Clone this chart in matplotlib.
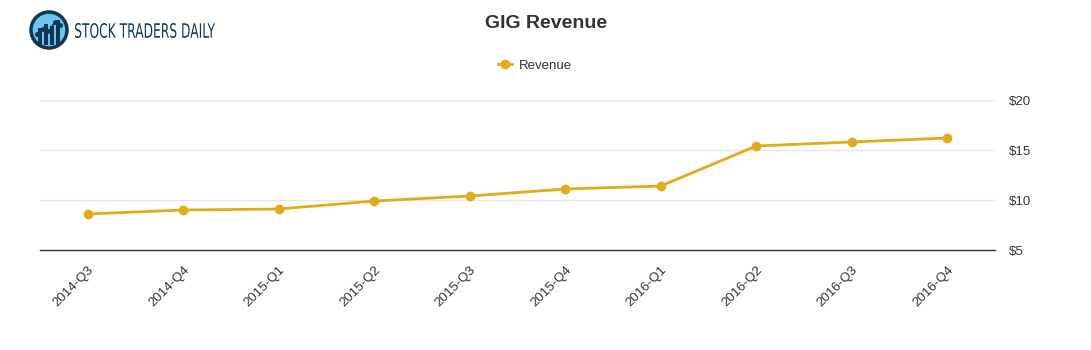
"""GIG revenue line chart in the Stock Traders Daily style"""

import matplotlib
matplotlib.use("Agg")
import matplotlib.pyplot as plt
from matplotlib.patches import Circle, PathPatch
from matplotlib.textpath import TextPath
from matplotlib.font_manager import FontProperties
from matplotlib.transforms import Affine2D

quarters = ["2014-Q3", "2014-Q4", "2015-Q1", "2015-Q2", "2015-Q3",
            "2015-Q4", "2016-Q1", "2016-Q2", "2016-Q3", "2016-Q4"]
revenue = [8.6, 9.0, 9.1, 9.9, 10.4, 11.1, 11.4, 15.4, 15.8, 16.2]
yticks = [5, 10, 15, 20]
ytick_labels = ["$5", "$10", "$15", "$20"]

line_color = "#E0AC17"
text_color = "#333333"

plt.rcParams["font.family"] = ["Liberation Sans", "DejaVu Sans"]

fig = plt.figure(figsize=(10.91, 3.5), dpi=100)
ax = fig.add_axes([40 / 1091, 1 - 250 / 350, 955 / 1091, 150 / 350])

x = list(range(len(quarters)))
ax.plot(x, revenue, color=line_color, linewidth=2, marker="o",
        markersize=6, label="Revenue", zorder=3)

ax.set_xlim(-0.5, len(quarters) - 0.5)
ax.set_ylim(5, 20)
ax.set_xticks(x)
ax.set_xticklabels(quarters, rotation=45, ha="right", rotation_mode="anchor",
                   fontsize=9.5, color=text_color)
ax.yaxis.tick_right()
ax.set_yticks(yticks)
ax.set_yticklabels(ytick_labels, fontsize=9.5, color=text_color)
ax.tick_params(axis="both", length=0)
ax.tick_params(axis="y", pad=10)
ax.tick_params(axis="x", pad=10)
ax.grid(axis="y", color="#e6e6e6", linewidth=1)
for side in ["top", "left", "right"]:
    ax.spines[side].set_visible(False)
ax.spines["bottom"].set_color("#333333")
ax.spines["bottom"].set_linewidth(1)
ax.set_axisbelow(True)

fig.text(546 / 1091, 1 - 23 / 350, "GIG Revenue", ha="center", va="center",
         fontsize=14, fontweight="bold", color=text_color)
fig.legend(loc="center", bbox_to_anchor=(535 / 1091, 1 - 66 / 350),
           frameon=False, fontsize=9.5, handlelength=1.1, handletextpad=0.5,
           labelcolor=text_color)

# logo
logo_ax = fig.add_axes([29 / 1091, 1 - 50 / 350, 40 / 1091, 40 / 350])
logo_ax.set_xlim(-1, 1)
logo_ax.set_ylim(-1, 1)
logo_ax.set_aspect("equal")
logo_ax.axis("off")
logo_ax.add_patch(Circle((0, 0), 0.9, facecolor="#6cc4f2", edgecolor="#0f3553", linewidth=2.5))
for bx, bh in [(-0.45, 0.35), (-0.15, 0.55), (0.15, 0.45), (0.45, 0.75)]:
    logo_ax.bar(bx, bh + 0.5, bottom=-0.75, width=0.22, color="#0f3553")
logo_ax.plot([-0.6, -0.3, 0.0, 0.3, 0.55], [-0.2, 0.05, -0.05, 0.4, 0.25],
             color="#0f3553", linewidth=1.2, marker="o", markersize=2.5)

# logo text squeezed to a condensed width
tp = TextPath((0, 0), "STOCK TRADERS DAILY", size=20,
              prop=FontProperties(family="DejaVu Sans"))
ext = tp.get_extents()
sx = 140 / ext.width
sy = 15 / ext.height
trans = Affine2D().translate(-ext.x0, -ext.y0).scale(sx, sy).translate(75, 350 - 38)
fig.patches.append(PathPatch(trans.transform_path(tp), facecolor="#12395a",
                             edgecolor="none", transform=None, figure=fig))

fig.savefig("out.png", dpi=100)
